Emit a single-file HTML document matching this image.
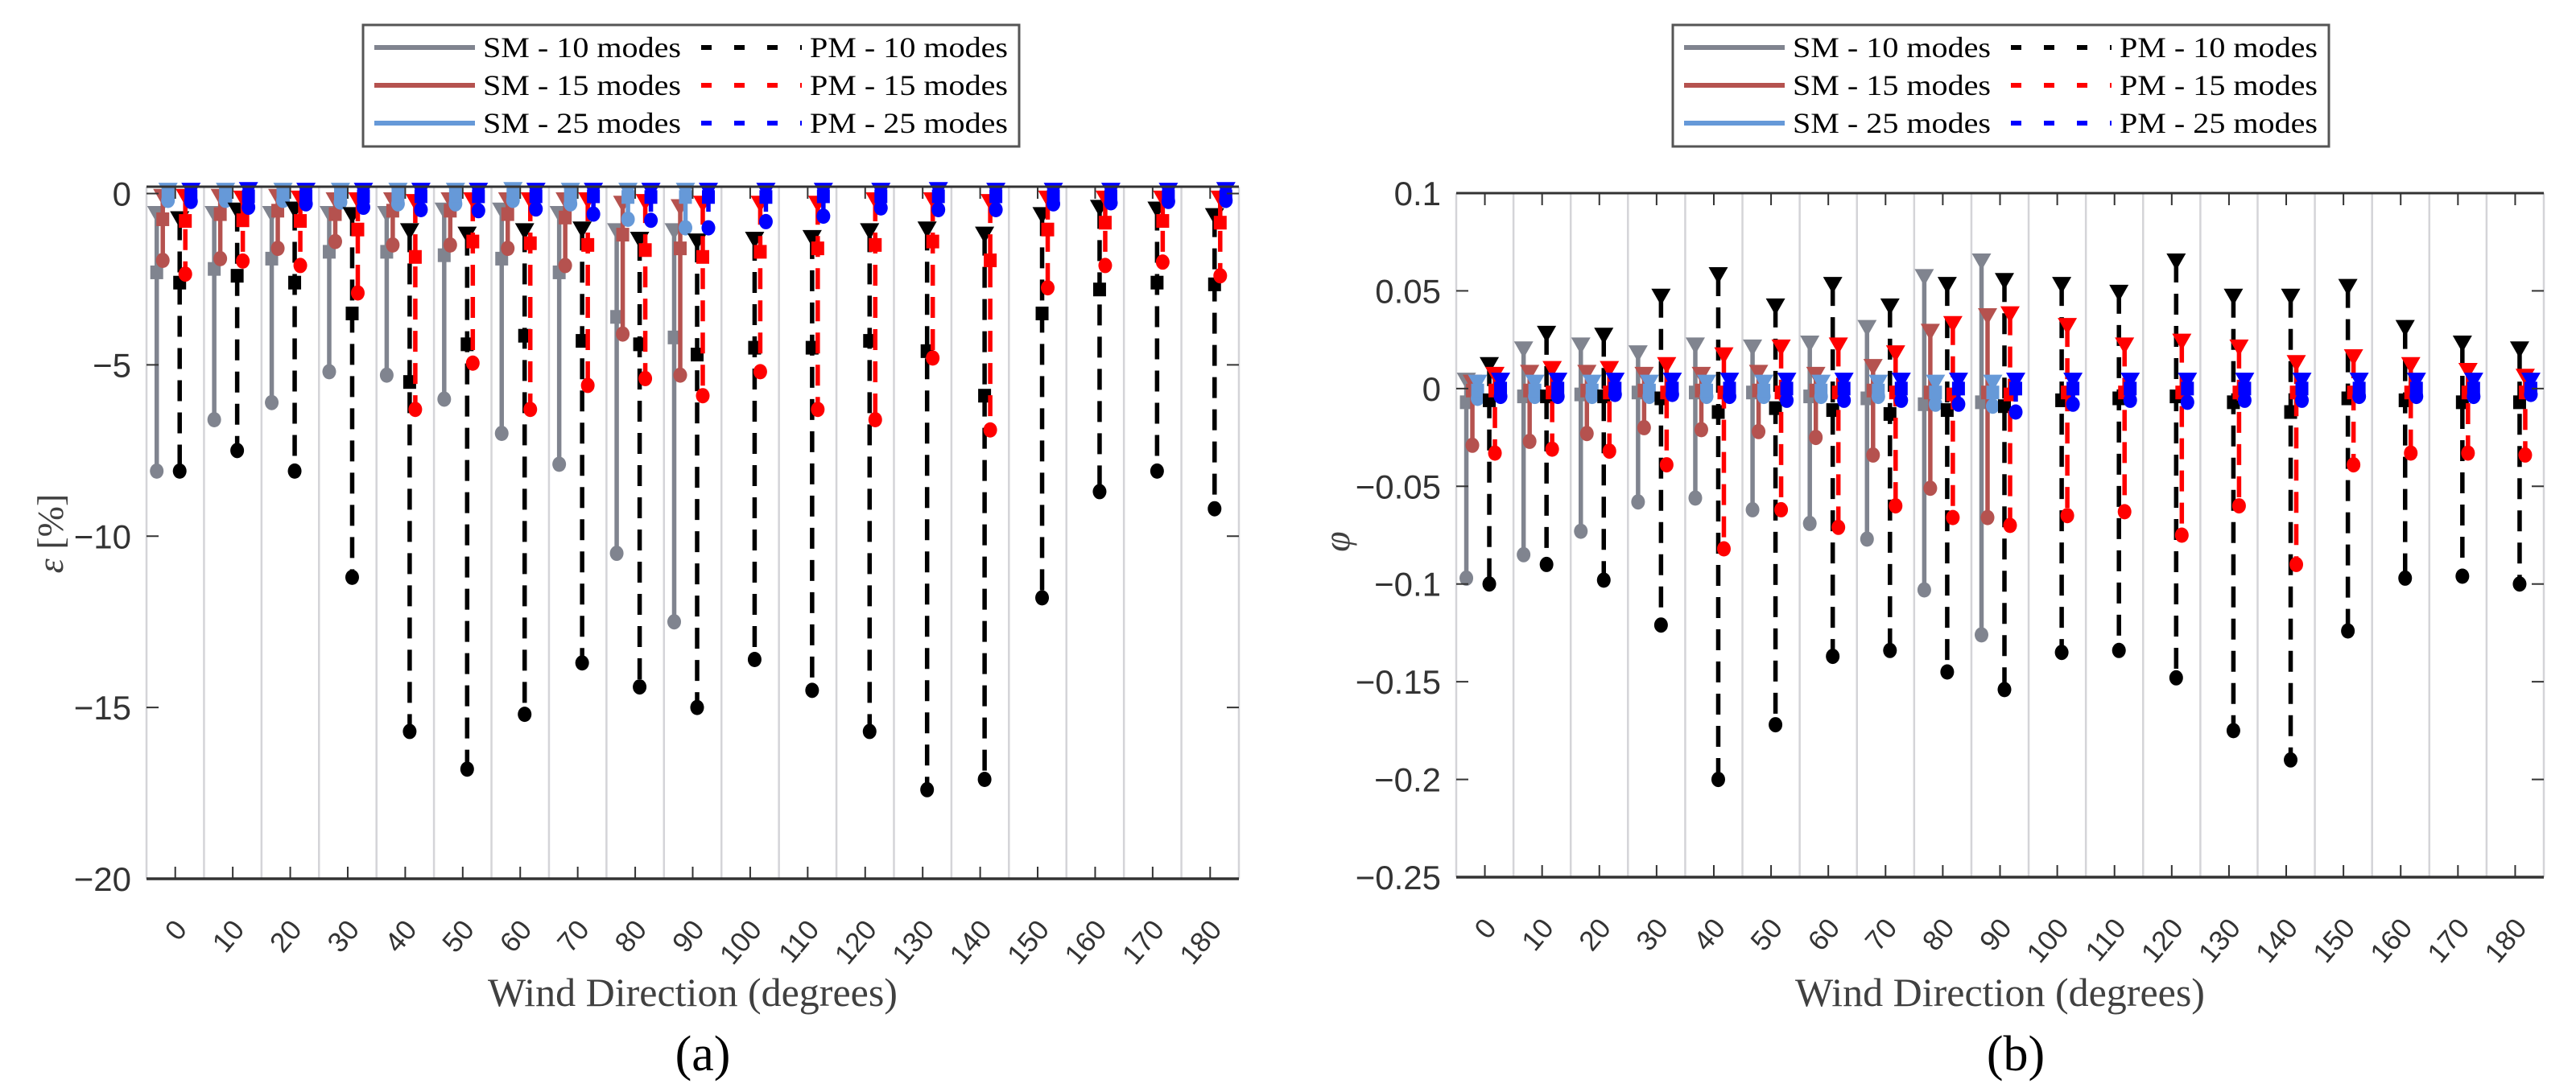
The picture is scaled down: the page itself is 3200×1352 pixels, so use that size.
<!DOCTYPE html>
<html><head><meta charset="utf-8"><style>
html,body{margin:0;padding:0;background:#fff;}
svg{display:block;}
</style></head><body>
<svg id="chart" width="3200" height="1352" viewBox="0 0 3200 1352" xmlns="http://www.w3.org/2000/svg"></svg>
<script>
// ---------- categories ----------
const categories = [0,10,20,30,40,50,60,70,80,90,100,110,120,130,140,150,160,170,180];
const yTicksA = [0,-5,-10,-15,-20];
const yTickLabelsA = ["0","\u22125","\u221210","\u221215","\u221220"];
const yTicksB = [0.1,0.05,0,-0.05,-0.1,-0.15,-0.2,-0.25];
const yTickLabelsB = ["0.1","0.05","0","\u22120.05","\u22120.1","\u22120.15","\u22120.2","\u22120.25"];

// ---------- plot (a) epsilon ----------
const aSM10Tri = [-0.6,-0.6,-0.6,-0.6,-0.6,-0.5,-0.5,-0.6,-1.1,-1.1];
const aSM10Sq = [-2.3,-2.2,-1.9,-1.7,-1.7,-1.8,-1.9,-2.3,-3.6,-4.2];
const aSM10Circ = [-8.1,-6.6,-6.1,-5.2,-5.3,-6.0,-7.0,-7.9,-10.5,-12.5];
const aSM15Tri = [-0.1,-0.1,-0.1,-0.2,-0.2,-0.2,-0.2,-0.2,-0.3,-0.4];
const aSM15Sq = [-0.75,-0.6,-0.5,-0.6,-0.5,-0.5,-0.6,-0.7,-1.2,-1.6];
const aSM15Circ = [-1.95,-1.9,-1.6,-1.4,-1.5,-1.5,-1.6,-2.1,-4.1,-5.3];
const aSM25Tri = [0.08,0.08,0.08,0.08,0.08,0.08,0.1,0.08,0.08,0.08];
const aSM25Sq = [-0.05,-0.05,-0.05,-0.05,-0.05,-0.05,-0.05,-0.05,-0.1,-0.1];
const aSM25Circ = [-0.2,-0.2,-0.2,-0.25,-0.3,-0.3,-0.2,-0.3,-0.75,-1.0];
const aPM10Tri = [-0.75,-0.5,-0.47,-0.63,-1.1,-1.2,-1.1,-1.05,-1.35,-1.4,-1.35,-1.3,-1.1,-1.05,-1.2,-0.63,-0.42,-0.47,-0.66];
const aPM10Sq = [-2.6,-2.4,-2.6,-3.5,-5.5,-4.4,-4.15,-4.3,-4.4,-4.7,-4.5,-4.5,-4.3,-4.6,-5.9,-3.5,-2.8,-2.6,-2.65];
const aPM10Circ = [-8.1,-7.5,-8.1,-11.2,-15.7,-16.8,-15.2,-13.7,-14.4,-15.0,-13.6,-14.5,-15.7,-17.4,-17.1,-11.8,-8.7,-8.1,-9.2];
const aPM15Tri = [-0.1,-0.15,-0.15,-0.2,-0.25,-0.2,-0.2,-0.2,-0.25,-0.3,-0.3,-0.3,-0.2,-0.2,-0.25,-0.15,-0.15,-0.15,-0.15];
const aPM15Sq = [-0.8,-0.78,-0.8,-1.05,-1.85,-1.4,-1.45,-1.5,-1.65,-1.85,-1.7,-1.6,-1.5,-1.4,-1.95,-1.05,-0.85,-0.8,-0.85];
const aPM15Circ = [-2.35,-1.97,-2.1,-2.9,-6.3,-4.95,-6.3,-5.6,-5.4,-5.9,-5.2,-6.3,-6.6,-4.8,-6.9,-2.75,-2.1,-2.0,-2.4];
const aPM25Tri = [0.08,0.1,0.08,0.08,0.08,0.08,0.08,0.08,0.08,0.08,0.08,0.08,0.08,0.1,0.08,0.08,0.08,0.08,0.1];
const aPM25Sq = [-0.08,-0.08,-0.08,-0.08,-0.08,-0.08,-0.08,-0.08,-0.1,-0.1,-0.1,-0.08,-0.08,-0.08,-0.08,-0.08,-0.08,-0.08,-0.08];
const aPM25Circ = [-0.23,-0.4,-0.3,-0.4,-0.47,-0.5,-0.45,-0.6,-0.78,-1.0,-0.82,-0.66,-0.42,-0.47,-0.47,-0.3,-0.27,-0.23,-0.2];

// ---------- plot (b) phi ----------
const bSM10Tri = [0.004,0.02,0.022,0.018,0.022,0.021,0.023,0.031,0.057,0.065];
const bSM10Sq = [-0.007,-0.004,-0.003,-0.002,-0.002,-0.002,-0.004,-0.005,-0.008,-0.007];
const bSM10Circ = [-0.097,-0.085,-0.073,-0.058,-0.056,-0.062,-0.069,-0.077,-0.103,-0.126];
const bSM15Tri = [0.003,0.008,0.008,0.007,0.007,0.008,0.007,0.011,0.029,0.037];
const bSM15Sq = [-0.001,-0.001,-0.001,-0.001,-0.001,-0.001,-0.001,-0.001,-0.002,-0.002];
const bSM15Circ = [-0.029,-0.027,-0.023,-0.02,-0.021,-0.022,-0.025,-0.034,-0.051,-0.066];
const bSM25Tri = [0.003,0.003,0.003,0.003,0.003,0.003,0.003,0.003,0.003,0.003];
const bSM25Sq = [-0.001,-0.001,-0.001,-0.001,-0.001,-0.001,-0.001,-0.001,-0.002,-0.002];
const bSM25Circ = [-0.005,-0.004,-0.004,-0.004,-0.004,-0.004,-0.004,-0.004,-0.008,-0.009];
const bPM10Tri = [0.012,0.028,0.027,0.047,0.058,0.042,0.053,0.042,0.053,0.055,0.053,0.049,0.065,0.047,0.047,0.052,0.031,0.023,0.02];
const bPM10Sq = [-0.006,-0.004,-0.004,-0.005,-0.012,-0.01,-0.011,-0.013,-0.011,-0.009,-0.006,-0.005,-0.004,-0.007,-0.012,-0.005,-0.006,-0.007,-0.007];
const bPM10Circ = [-0.1,-0.09,-0.098,-0.121,-0.2,-0.172,-0.137,-0.134,-0.145,-0.154,-0.135,-0.134,-0.148,-0.175,-0.19,-0.124,-0.097,-0.096,-0.1];
const bPM15Tri = [0.007,0.01,0.01,0.012,0.017,0.021,0.022,0.018,0.033,0.038,0.032,0.022,0.024,0.021,0.013,0.016,0.012,0.009,0.006];
const bPM15Sq = [-0.001,-0.002,-0.002,-0.002,-0.002,-0.002,-0.002,-0.002,-0.003,-0.003,-0.002,-0.002,-0.002,-0.002,-0.002,-0.002,-0.002,-0.002,-0.002];
const bPM15Circ = [-0.033,-0.031,-0.032,-0.039,-0.082,-0.062,-0.071,-0.06,-0.066,-0.07,-0.065,-0.063,-0.075,-0.06,-0.09,-0.039,-0.033,-0.033,-0.034];
const bPM25Tri = [0.004,0.004,0.004,0.004,0.004,0.004,0.004,0.004,0.004,0.004,0.004,0.004,0.004,0.004,0.004,0.004,0.004,0.004,0.004];
const bPM25Sq = [0,0,0,0,0,0,0,0,0,0,0,0,0,0,0,0,0,0,0];
const bPM25Circ = [-0.004,-0.004,-0.003,-0.003,-0.004,-0.006,-0.006,-0.006,-0.008,-0.012,-0.008,-0.006,-0.007,-0.006,-0.006,-0.004,-0.004,-0.004,-0.003];

const NS = "http://www.w3.org/2000/svg";
const svg = document.getElementById('chart');
function mk(tag, attrs, parent){
  const e = document.createElementNS(NS, tag);
  for (const k in attrs) e.setAttribute(k, attrs[k]);
  (parent||svg).appendChild(e);
  return e;
}

const seriesStyle = [
  {name:'sm-10-modes', color:'#80848f', dash:null, off:-23},
  {name:'sm-15-modes', color:'#b5524f', dash:null, off:-15.5},
  {name:'sm-25-modes', color:'#6699d8', dash:null, off:-9},
  {name:'pm-10-modes', color:'#000000', dash:'26 14', off:5.5},
  {name:'pm-15-modes', color:'#ff0000', dash:'26 14', off:12.5},
  {name:'pm-25-modes', color:'#0000ff', dash:'26 14', off:19.5}
];

function drawPlot(cfg){
  const g = mk('g', {});
  
  
  const {x0,x1,yTop,yBot,ymin,ymax} = cfg;
  const step = (x1-x0)/categories.length;
  const xs = i => x0 + (i+0.5)*step;
  const ys = v => yTop + (ymax - v)/(ymax - ymin)*(yBot - yTop);

  for (let i=0;i<=categories.length;i++){
    const x = x0 + i*step;
    const l = mk('line', {x1:x, x2:x, y1:yTop, y2:yBot, stroke:'#d4d4d8', 'stroke-width':2.5}, g);
    
    
  }
  cfg.series.forEach((s, si) => {
    const st = seriesStyle[si];
    const sg = mk('g', {}, g);
    
    
    s.circ.forEach((cv, i) => {
      const x = xs(i) + st.off;
      const tv = s.tri[i], qv = s.sq[i];
      const stem = mk('line', {x1:x, x2:x, y1:ys(Math.max(tv,cv)), y2:ys(Math.min(tv,cv)), stroke:st.color, 'stroke-width':5.5}, sg);
      if (st.dash) stem.setAttribute('stroke-dasharray', st.dash);
      
      
      const c = mk('ellipse', {cx:x, cy:ys(cv), rx:8.5, ry:9.5, fill:st.color}, sg);
      
      
      const q = mk('rect', {x:x-8, y:ys(qv)-8.5, width:16, height:17, fill:st.color}, sg);
      
      
      const ty = ys(tv);
      const t = mk('polygon', {points:`${x-12},${ty-10} ${x+12},${ty-10} ${x},${ty+11}`, fill:st.color}, sg);
      
      
    });
  });
  const top = mk('line', {x1:x0, x2:x1, y1:yTop, y2:yTop, stroke:'#333', 'stroke-width':3}, g);
  
  
  const bot = mk('line', {x1:x0, x2:x1, y1:yBot, y2:yBot, stroke:'#333', 'stroke-width':3.5}, g);
  
  
  categories.forEach((c, i) => {
    const x = xs(i);
    const tk = mk('line', {x1:x, x2:x, y1:yBot, y2:yBot-15, stroke:'#333', 'stroke-width':2}, g);
    
    
    const tk2 = mk('line', {x1:x, x2:x, y1:yTop, y2:yTop+15, stroke:'#333', 'stroke-width':2}, g);
    
    
    const ax = x + 16, ay = yBot + 64;
    const tx = mk('text', {x:ax, y:ay, 'text-anchor':'end', 'font-family':'Liberation Sans, sans-serif', 'font-size':35, fill:'#333', transform:`rotate(-50 ${ax} ${ay})`}, g);
    tx.textContent = String(c);
    
    
  });
  cfg.yTicks.forEach((v, i) => {
    const y = ys(v);
    const tk = mk('line', {x1:x0, x2:x0+15, y1:y, y2:y, stroke:'#333', 'stroke-width':2}, g);
    
    
    const tk2 = mk('line', {x1:x1, x2:x1-15, y1:y, y2:y, stroke:'#333', 'stroke-width':2}, g);
    
    
    const tx = mk('text', {x:x0-19, y:y+15, 'text-anchor':'end', 'font-family':'Liberation Sans, sans-serif', 'font-size':42, fill:'#333'}, g);
    tx.textContent = cfg.yTickLabels[i];
    
    
  });
  const xt = mk('text', {x:(x0+x1)/2, y:1250, 'text-anchor':'middle', 'font-family':'Liberation Serif, serif', 'font-size':50, fill:'#404040'}, g);
  xt.textContent = 'Wind Direction (degrees)';
  
  
  const yt = mk('text', {x:cfg.ylabX, y:cfg.ylabY, 'text-anchor':'middle', 'font-family':'Liberation Serif, serif', 'font-size':46, fill:'#404040', transform:`rotate(-90 ${cfg.ylabX} ${cfg.ylabY})`}, g);
  yt.innerHTML = cfg.ylab;
  
  
  const cap = mk('text', {x:cfg.capX, y:1330, 'text-anchor':'middle', 'font-family':'Liberation Serif, serif', 'font-size':62, fill:'#000'}, g);
  cap.textContent = cfg.caption;
  
  

  const L = cfg.legX, LT = 31;
  const lg = mk('g', {}, g);
  
  
  const box = mk('rect', {x:L, y:LT, width:815, height:151, fill:'#fff', stroke:'#555', 'stroke-width':3}, lg);
  
  
  const labels = ['SM - 10 modes','SM - 15 modes','SM - 25 modes','PM - 10 modes','PM - 15 modes','PM - 25 modes'];
  labels.forEach((lab, k) => {
    const col = k < 3 ? 0 : 1, row = k % 3;
    const y = 59 + row*47;
    const lx0 = col === 0 ? L+14 : L+420, lx1 = col === 0 ? L+139 : L+545;
    const st = seriesStyle[k];
    const ent = mk('g', {}, lg);
    
    
    const ln = mk('line', {x1:lx0, x2:lx1, y1:y, y2:y, stroke:st.color, 'stroke-width':6}, ent);
    if (st.dash) ln.setAttribute('stroke-dasharray', '13 28');
    
    
    const tx = mk('text', {x:lx1+10, y:y+12, 'font-family':'Liberation Serif, serif', 'font-size':36, fill:'#000', textLength:246, lengthAdjust:'spacingAndGlyphs'}, ent);
    tx.textContent = lab;
    
    
  });
}

drawPlot({name:'plot-a-epsilon', x0:182, x1:1539, yTop:232, yBot:1092, ymin:-20, ymax:0.2,
  yTicks:yTicksA, yTickLabels:yTickLabelsA, ylab:'<tspan font-style="italic">\u03B5</tspan> [%]', ylabX:78, ylabY:663,
  caption:'(a)', capX:873, legX:451,
  series:[
    {tri:aSM10Tri, sq:aSM10Sq, circ:aSM10Circ},
    {tri:aSM15Tri, sq:aSM15Sq, circ:aSM15Circ},
    {tri:aSM25Tri, sq:aSM25Sq, circ:aSM25Circ},
    {tri:aPM10Tri, sq:aPM10Sq, circ:aPM10Circ},
    {tri:aPM15Tri, sq:aPM15Sq, circ:aPM15Circ},
    {tri:aPM25Tri, sq:aPM25Sq, circ:aPM25Circ}
  ]});
drawPlot({name:'plot-b-phi', x0:1809, x1:3160, yTop:240, yBot:1090, ymin:-0.25, ymax:0.1,
  yTicks:yTicksB, yTickLabels:yTickLabelsB, ylab:'<tspan font-style="italic">\u03C6</tspan>', ylabX:1676, ylabY:673,
  caption:'(b)', capX:2504, legX:2078,
  series:[
    {tri:bSM10Tri, sq:bSM10Sq, circ:bSM10Circ},
    {tri:bSM15Tri, sq:bSM15Sq, circ:bSM15Circ},
    {tri:bSM25Tri, sq:bSM25Sq, circ:bSM25Circ},
    {tri:bPM10Tri, sq:bPM10Sq, circ:bPM10Circ},
    {tri:bPM15Tri, sq:bPM15Sq, circ:bPM15Circ},
    {tri:bPM25Tri, sq:bPM25Sq, circ:bPM25Circ}
  ]});
</script>
</body></html>
